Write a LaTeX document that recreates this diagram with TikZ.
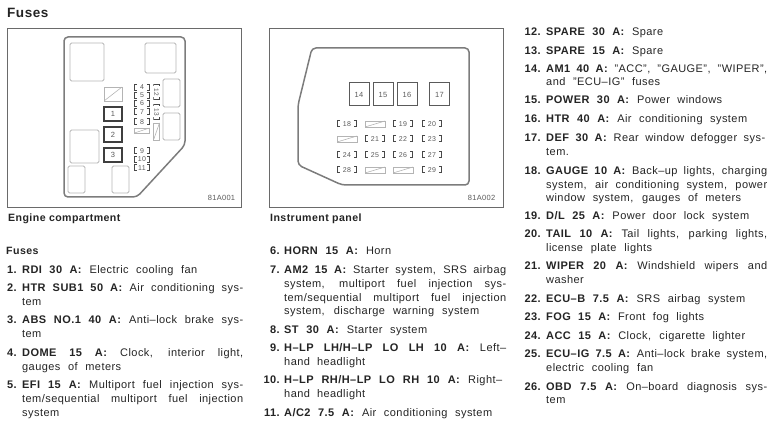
\documentclass[tikz,border=0pt]{standalone}
\usepackage{fontspec}
\setmainfont{Liberation Sans}[LetterSpace=4]
\newcount\tc
\definecolor{ink}{HTML}{242424}
\definecolor{frm}{HTML}{6A6A6A}
\definecolor{outl}{HTML}{7C7C7C}
\definecolor{soft}{HTML}{B4B4B4}
\definecolor{fusec}{HTML}{5A5A5A}
\tikzset{
  x=1pt,y=-1pt,
  txt/.style={anchor=base west,inner sep=0pt,text=ink,font=\fontsize{11}{12}\selectfont},
  num/.style={anchor=base east,inner sep=0pt,text=ink,font=\fontsize{11}{12}\selectfont\bfseries},
  head/.style={anchor=base west,inner sep=0pt,text=ink,font=\fontsize{10.6}{12}\selectfont\bfseries},
  frame/.style={draw=frm,line width=0.6pt},
  outline/.style={draw=outl,line width=1.5pt,rounded corners=4pt},
  relay/.style={draw=soft,line width=0.8pt,rounded corners=1.5pt},
  bigfuse/.style={draw=fusec,line width=1pt,inner sep=0pt,font=\fontsize{7.5}{8}\selectfont,text=fusec},
  darkfuse/.style={bigfuse,draw=fusec!70!black,line width=1.3pt},
  code/.style={inner sep=0pt,font=\fontsize{7.5}{9}\selectfont,text=fusec},
  brk/.style={minimum width=#1,minimum height=7pt,inner sep=0pt,font=\fontsize{7}{8}\selectfont,text=fusec,
    path picture={
      \draw[fusec!80!black,line width=1pt]
       ([xshift=3pt,yshift=-.5pt]path picture bounding box.north west)--([xshift=.5pt,yshift=-.5pt]path picture bounding box.north west)--([xshift=.5pt,yshift=.5pt]path picture bounding box.south west)--([xshift=3pt,yshift=.5pt]path picture bounding box.south west)
       ([xshift=-3pt,yshift=-.5pt]path picture bounding box.north east)--([xshift=-.5pt,yshift=-.5pt]path picture bounding box.north east)--([xshift=-.5pt,yshift=.5pt]path picture bounding box.south east)--([xshift=-3pt,yshift=.5pt]path picture bounding box.south east);}},
  vbrk/.style={minimum width=6.5pt,minimum height=16pt,inner sep=0pt,font=\fontsize{6.5}{8}\selectfont,text=fusec,
    path picture={
      \draw[fusec!80!black,line width=1pt]
       ([xshift=.5pt,yshift=-2.5pt]path picture bounding box.north west)--([xshift=.5pt,yshift=-.5pt]path picture bounding box.north west)--([xshift=-.5pt,yshift=-.5pt]path picture bounding box.north east)--([xshift=-.5pt,yshift=-2.5pt]path picture bounding box.north east)
       ([xshift=.5pt,yshift=2.5pt]path picture bounding box.south west)--([xshift=.5pt,yshift=.5pt]path picture bounding box.south west)--([xshift=-.5pt,yshift=.5pt]path picture bounding box.south east)--([xshift=-.5pt,yshift=2.5pt]path picture bounding box.south east);}},
  slash/.style={draw=soft,line width=0.7pt,inner sep=0pt,
    path picture={\draw[soft,line width=0.6pt](path picture bounding box.south west)--(path picture bounding box.north east);}},
}
\newcommand{\boxnode}[6]{\node[#1,minimum width=#4pt,minimum height=#5pt] (#6) at (#2,#3) {};}
\newcommand{\tl}[4]{\global\advance\tc by 1\node[txt,name=t\the\tc] at (#1,#2+3.8) {\makebox[#3pt][s]{#4}};}
\newcommand{\nm}[3]{\global\advance\tc by 1\node[num,name=t\the\tc] at (#1,#2+3.8) {#3};}
\begin{document}
\begin{tikzpicture}
\useasboundingbox (0,0) rectangle (775,430);
% headings
\node[head,font=\fontsize{13.5}{14}\selectfont\bfseries] (title) at (7,17.5) {Fuses};
\node[head] (capa) at (8,221.5) {Engine  compartment};
\node[head] (capb) at (270,221.5) {Instrument  panel};
\node[head] (fuseshead) at (6,254.5) {Fuses};
% engine frame
\node[frame,minimum width=234pt,minimum height=179pt,inner sep=0pt] (fa) at (124,117.5) {};
\draw[outline] (64,37) -- (185,37) -- (185,145) -- (137,197) -- (64,197) -- cycle;
\boxnode{relay}{87}{62}{34}{38}{ra}
\boxnode{relay}{160.5}{58}{31}{30}{rb}
\boxnode{relay}{171.5}{93}{17}{28}{rc}
\boxnode{relay}{171.5}{126.5}{17}{27}{rd}
\boxnode{relay}{84.5}{146.5}{29}{33}{re}
\boxnode{relay}{76.5}{179.5}{17}{27}{rf}
\boxnode{relay}{120.5}{179.5}{17}{27}{rg}
\boxnode{slash}{113}{94}{18}{14}{se}
\node[darkfuse,minimum width=18pt,minimum height=14pt] (f1) at (113,114) {1};
\node[darkfuse,minimum width=18pt,minimum height=15pt] (f2) at (113,134.5) {2};
\node[darkfuse,minimum width=18pt,minimum height=14pt] (f3) at (113,155) {3};
\node[brk=16pt] (f4) at (142,87.5) {4};
\node[brk=16pt] (f5) at (142,95.5) {5};
\node[brk=16pt] (f6) at (142,103.5) {6};
\node[brk=16pt] (f7) at (142,112) {7};
\node[brk=16pt] (f8) at (142,122) {8};
\node[brk=16pt] (f9) at (142,151) {9};
\node[brk=16pt] (f10) at (142,159.5) {10};
\node[brk=16pt] (f11) at (142,168) {11};
\node[vbrk] (f12) at (156.5,92) {\rotatebox{-90}{12}};
\node[vbrk] (f13) at (156.5,112) {\rotatebox{-90}{13}};
\boxnode{slash}{142}{130.5}{15}{5}{sf}
\boxnode{slash}{156.5}{131.5}{6}{17}{sg}
\node[code] (ca) at (221.5,198) {81A001};
% instrument frame
\node[frame,minimum width=234pt,minimum height=179pt,inner sep=0pt] (fb) at (386,117.5) {};
\draw[outline] (312,48) -- (469,48) -- (469,185) -- (342,185) -- (298,165) -- (298,105) -- cycle;
\node[bigfuse,minimum width=20pt,minimum height=23pt] (f14) at (359,94.5) {14};
\node[bigfuse,minimum width=20pt,minimum height=23pt] (f15) at (383,94.5) {15};
\node[bigfuse,minimum width=20pt,minimum height=23pt] (f16) at (407,94.5) {16};
\node[bigfuse,minimum width=20pt,minimum height=23pt] (f17) at (439.5,94.5) {17};
\node[brk=20pt] (f18) at (347,124) {18};
\boxnode{slash}{375}{124}{20}{6}{s1}
\node[brk=20pt] (f19) at (403,124) {19};
\node[brk=20pt] (f20) at (432,124) {20};
\boxnode{slash}{347}{139}{20}{6}{s2}
\node[brk=20pt] (f21) at (375,139) {21};
\node[brk=20pt] (f22) at (403,139) {22};
\node[brk=20pt] (f23) at (432,139) {23};
\node[brk=20pt] (f24) at (347,155) {24};
\node[brk=20pt] (f25) at (375,155) {25};
\node[brk=20pt] (f26) at (403,155) {26};
\node[brk=20pt] (f27) at (432,155) {27};
\node[brk=20pt] (f28) at (347,170) {28};
\boxnode{slash}{375}{170}{20}{6}{s3}
\boxnode{slash}{403}{170}{20}{6}{s4}
\node[brk=20pt] (f29) at (432,170) {29};
\node[code] (cb) at (481.5,198) {81A002};
% left column
\nm{17}{270}{1.}\tl{22}{270}{175}{\textbf{RDI  30  A:} Electric  cooling  fan}
\nm{17}{288}{2.}\tl{22}{288}{221}{\textbf{HTR SUB1 50 A:} Air conditioning sys-}
\tl{22}{302}{20}{tem}
\nm{17}{320}{3.}\tl{22}{320}{221}{\textbf{ABS NO.1 40 A:} Anti–lock brake sys-}
\tl{22}{334}{20}{tem}
\nm{17}{353}{4.}\tl{22}{353}{221}{\textbf{DOME 15 A:} Clock, interior light,}
\tl{22}{367}{99}{gauges of meters}
\nm{17}{385}{5.}\tl{22}{385}{221}{\textbf{EFI 15 A:} Multiport fuel injection sys-}
\tl{22}{399}{221}{tem/sequential multiport fuel injection}
\tl{22}{413}{38}{system}
% middle column
\nm{280}{251}{6.}\tl{284}{251}{107}{\textbf{HORN 15 A:} Horn}
\nm{280}{270}{7.}\tl{284}{270}{222}{\textbf{AM2 15 A:} Starter system, SRS airbag}
\tl{284}{284}{222}{system, multiport fuel injection sys-}
\tl{284}{298}{222}{tem/sequential multiport fuel injection}
\tl{284}{311}{195}{system, discharge warning system}
\nm{280}{330}{8.}\tl{284}{330}{143}{\textbf{ST 30 A:} Starter system}
\nm{280}{348}{9.}\tl{284}{348}{222}{\textbf{H–LP LH/H–LP LO LH 10 A:} Left–}
\tl{284}{362}{81}{hand headlight}
\nm{280}{380}{10.}\tl{284}{380}{218}{\textbf{H–LP RH/H–LP LO RH 10 A:} Right–}
\tl{284}{394}{81}{hand headlight}
\nm{280}{413}{11.}\tl{284}{413}{208}{\textbf{A/C2 7.5 A:} Air conditioning system}
% right column
\nm{541}{32}{12.}\tl{546}{32}{117}{\textbf{SPARE 30 A:} Spare}
\nm{541}{51}{13.}\tl{546}{51}{117}{\textbf{SPARE 15 A:} Spare}
\nm{541}{69}{14.}\tl{546}{69}{221}{\textbf{AM1 40 A:} "ACC", "GAUGE", "WIPER",}
\tl{546}{82}{114}{and "ECU–IG" fuses}
\nm{541}{100}{15.}\tl{546}{100}{176}{\textbf{POWER 30 A:} Power windows}
\nm{541}{119}{16.}\tl{546}{119}{201}{\textbf{HTR 40 A:} Air conditioning system}
\nm{541}{138}{17.}\tl{546}{138}{219}{\textbf{DEF 30 A:} Rear window defogger sys-}
\tl{546}{152}{22}{tem.}
\nm{541}{171}{18.}\tl{546}{171}{221}{\textbf{GAUGE 10 A:} Back–up lights, charging}
\tl{546}{185}{221}{system, air conditioning system, power}
\tl{546}{198}{195}{window system, gauges of meters}
\nm{541}{216}{19.}\tl{546}{216}{203}{\textbf{D/L 25 A:} Power door lock system}
\nm{541}{234}{20.}\tl{546}{234}{221}{\textbf{TAIL 10 A:} Tail lights, parking lights,}
\tl{546}{248}{106}{license plate lights}
\nm{541}{266}{21.}\tl{546}{266}{221}{\textbf{WIPER 20 A:} Windshield wipers and}
\tl{546}{280}{38}{washer}
\nm{541}{299}{22.}\tl{546}{299}{199}{\textbf{ECU–B 7.5 A:} SRS airbag system}
\nm{541}{317}{23.}\tl{546}{317}{158}{\textbf{FOG 15 A:} Front fog lights}
\nm{541}{336}{24.}\tl{546}{336}{199}{\textbf{ACC 15 A:} Clock, cigarette lighter}
\nm{541}{354}{25.}\tl{546}{354}{221}{\textbf{ECU–IG 7.5 A:} Anti–lock brake system,}
\tl{546}{368}{107}{electric cooling fan}
\nm{541}{387}{26.}\tl{546}{387}{221}{\textbf{OBD 7.5 A:} On–board diagnosis sys-}
\tl{546}{400}{22}{tem}
\end{tikzpicture}
\end{document}
